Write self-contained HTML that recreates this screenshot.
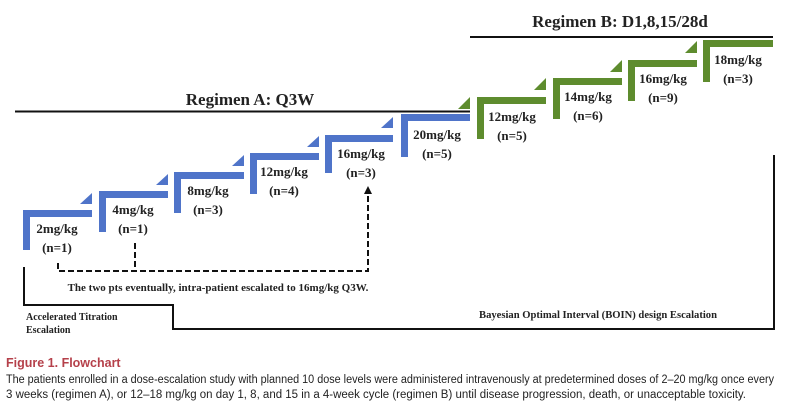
<!DOCTYPE html>
<html><head><meta charset="utf-8"><style>
html,body{margin:0;padding:0;background:#fff;}
svg{display:block;}
.l{font-family:"Liberation Serif",serif;font-weight:bold;fill:#222;}
.c{font-family:"Liberation Sans",sans-serif;}
</style></head><body>
<svg width="800" height="414" viewBox="0 0 800 414" xmlns="http://www.w3.org/2000/svg">
<!-- Regimen lines -->
<line x1="15" y1="111.5" x2="470" y2="111.5" stroke="#111" stroke-width="2"/>
<text class="l" x="250" y="105" font-size="17" text-anchor="middle">Regimen A: Q3W</text>
<line x1="470" y1="37" x2="773" y2="37" stroke="#111" stroke-width="2"/>
<text class="l" x="620" y="27" font-size="17" text-anchor="middle">Regimen B: D1,8,15/28d</text>

<!-- blue steps -->
<g fill="#4f74c9">
<rect x="23" y="210" width="69" height="7"/><rect x="23" y="210" width="7" height="40"/>
<polygon points="92,193 92,204 80,204"/>
<rect x="99" y="191" width="69" height="7"/><rect x="99" y="191" width="7" height="41"/>
<polygon points="168,174 168,185 156,185"/>
<rect x="174" y="172" width="70" height="7"/><rect x="174" y="172" width="7" height="41"/>
<polygon points="244,155 244,166 232,166"/>
<rect x="250" y="153" width="69" height="7"/><rect x="250" y="153" width="7" height="41"/>
<polygon points="319,136 319,147 307,147"/>
<rect x="325" y="135" width="68" height="7"/><rect x="325" y="135" width="7" height="38"/>
<polygon points="393,117 393,128 381,128"/>
<rect x="401" y="114" width="69" height="7"/><rect x="401" y="114" width="7" height="43"/>
</g>
<g fill="#5e8c2e">
<polygon points="470,97 470,109 458,109"/>
<rect x="477" y="97" width="69" height="7"/><rect x="477" y="97" width="7" height="42"/>
<polygon points="546,78 546,90 534,90"/>
<rect x="553" y="78" width="69" height="7"/><rect x="553" y="78" width="7" height="41"/>
<polygon points="622,60 622,72 610,72"/>
<rect x="628" y="60" width="69" height="7"/><rect x="628" y="60" width="7" height="41"/>
<polygon points="697,41 697,53 685,53"/>
<rect x="703" y="40" width="70" height="7"/><rect x="703" y="40" width="7" height="42"/>
</g>

<!-- labels -->
<g class="l" font-size="13" text-anchor="middle">
<text x="57" y="233">2mg/kg</text><text x="57" y="252">(n=1)</text>
<text x="133" y="214">4mg/kg</text><text x="133" y="233">(n=1)</text>
<text x="208" y="195">8mg/kg</text><text x="208" y="214">(n=3)</text>
<text x="284" y="176">12mg/kg</text><text x="284" y="195">(n=4)</text>
<text x="361" y="158">16mg/kg</text><text x="361" y="177">(n=3)</text>
<text x="437" y="139">20mg/kg</text><text x="437" y="158">(n=5)</text>
<text x="512" y="121">12mg/kg</text><text x="512" y="140">(n=5)</text>
<text x="588" y="101">14mg/kg</text><text x="588" y="120">(n=6)</text>
<text x="663" y="83">16mg/kg</text><text x="663" y="102">(n=9)</text>
<text x="738" y="64">18mg/kg</text><text x="738" y="83">(n=3)</text>
</g>

<!-- dashed -->
<g stroke="#111" stroke-width="2" fill="none" stroke-dasharray="6,3">
<path d="M58,263 V271 H368 V193"/>
<path d="M135,243 V271"/>
</g>
<polygon points="368,186 364,194 372,194" fill="#111"/>
<text class="l" x="218" y="291" font-size="11" text-anchor="middle">The two pts eventually, intra-patient escalated to 16mg/kg Q3W.</text>

<!-- bracket -->
<path d="M24,267 V305 H173 V329 H774 V155" stroke="#111" stroke-width="2" fill="none"/>
<text class="l" x="26" y="320" font-size="10">Accelerated Titration</text>
<text class="l" x="26" y="333" font-size="10">Escalation</text>
<text class="l" x="479" y="318" font-size="10" textLength="238" lengthAdjust="spacingAndGlyphs">Bayesian Optimal Interval (BOIN) design Escalation</text>

<!-- caption -->
<text class="c" x="6" y="367" font-size="12.5" font-weight="bold" fill="#b5404a">Figure 1.  Flowchart</text>
<text class="c" x="6" y="383" font-size="11.5" fill="#222" textLength="768" lengthAdjust="spacingAndGlyphs">The patients enrolled in a dose-escalation study with planned 10 dose levels were administered intravenously at predetermined doses of 2–20 mg/kg once every</text>
<text class="c" x="6" y="398" font-size="11.5" fill="#222" textLength="740" lengthAdjust="spacingAndGlyphs">3 weeks (regimen A), or 12–18 mg/kg on day 1, 8, and 15 in a 4-week cycle (regimen B) until disease progression, death, or unacceptable toxicity.</text>
</svg>
</body></html>
